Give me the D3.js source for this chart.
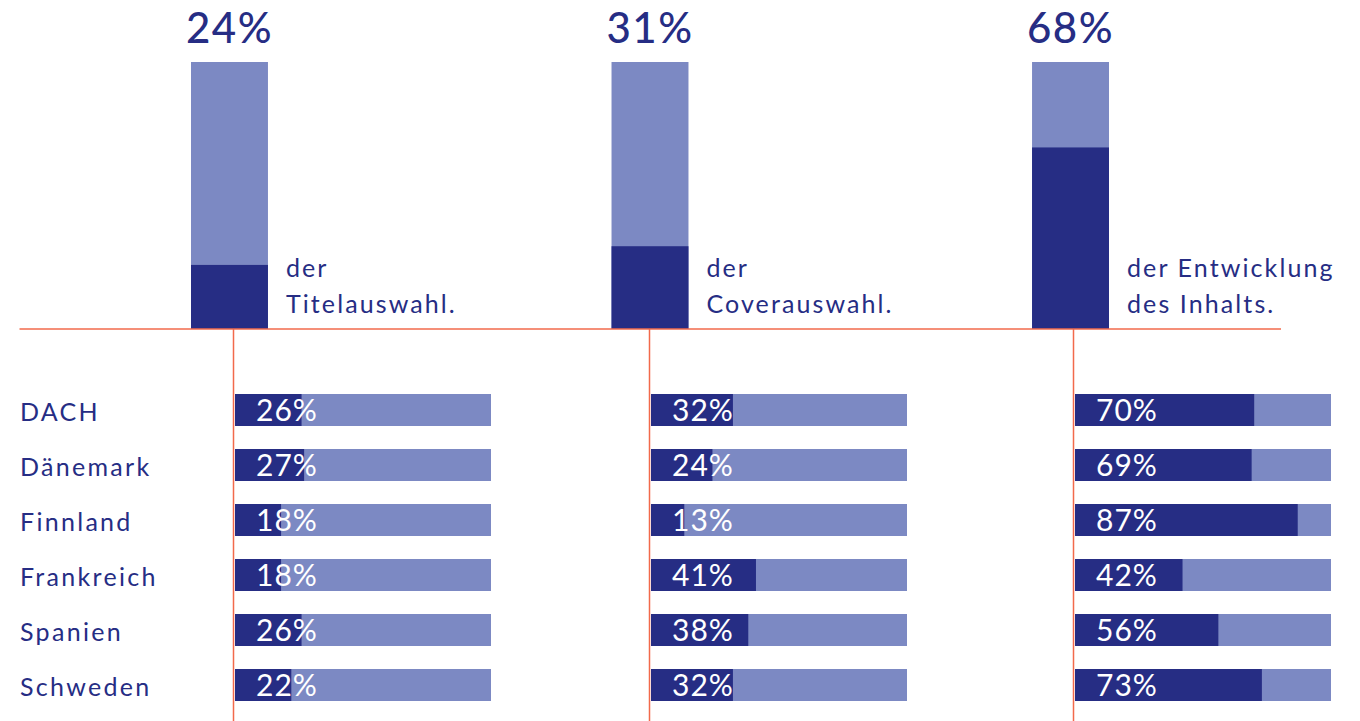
<!DOCTYPE html>
<html lang="de">
<head>
<meta charset="utf-8">
<script src="https://cdn.jsdelivr.net/npm/d3@7"></script>
<style>
  html, body { margin: 0; padding: 0; background: #ffffff; }
  svg { display: block; font-family: Lato, "Open Sans", sans-serif; }
</style>
</head>
<body>
<svg id="chart" width="1360" height="721"></svg>
<script>
// Overall shares per area of responsibility
const areas = ["Titelauswahl", "Coverauswahl", "Inhalt"];
const areaLines = [
  ["der", "Titelauswahl."],
  ["der", "Coverauswahl."],
  ["der Entwicklung", "des Inhalts."]
];
const overall = [24, 31, 68];

// Shares per market
const countries = ["DACH", "Dänemark", "Finnland", "Frankreich", "Spanien", "Schweden"];
const titelauswahl = [26, 27, 18, 18, 26, 22];
const coverauswahl = [32, 24, 13, 41, 38, 32];
const inhalt = [70, 69, 87, 42, 56, 73];

const byArea = [titelauswahl, coverauswahl, inhalt];

const DARK = "#262d84";
const LIGHT = "#7c89c3";
const RULE = "#f26a4b";
const pct = d => d + "%";

const svg = d3.select("#chart");

// ---- upper part: one tall stacked column per area ----
const baseY = 329;
const colX = d3.scaleBand()
  .domain(areas)
  .range([191, 1109])
  .paddingInner(0.817)
  .paddingOuter(0);
const colY = d3.scaleLinear().domain([0, 100]).range([baseY, 62]);

const upper = svg.append("g");
const cols = upper.selectAll("g.col")
  .data(areas.map((a, i) => ({ area: a, value: overall[i], lines: areaLines[i] })))
  .join("g")
  .attr("class", "col");

cols.append("rect")
  .attr("x", d => colX(d.area))
  .attr("y", colY(100))
  .attr("width", colX.bandwidth())
  .attr("height", colY(0) - colY(100))
  .attr("fill", LIGHT);

cols.append("rect")
  .attr("x", d => colX(d.area))
  .attr("y", d => colY(d.value))
  .attr("width", colX.bandwidth())
  .attr("height", d => colY(0) - colY(d.value))
  .attr("fill", DARK);

cols.append("text")
  .attr("x", d => colX(d.area) + colX.bandwidth() / 2)
  .attr("y", 43)
  .attr("text-anchor", "middle")
  .attr("fill", DARK)
  .style("font-size", "42px")
  .style("font-weight", 500)
  .style("letter-spacing", "1.5px")
  .text(d => pct(d.value));

cols.each(function (d) {
  const lx = colX(d.area) + colX.bandwidth() + 18;
  d3.select(this).append("text")
    .attr("fill", DARK)
    .style("font-size", "25px")
    .style("letter-spacing", "2.1px")
    .selectAll("tspan")
    .data(d.lines)
    .join("tspan")
    .attr("x", lx)
    .attr("y", (t, i) => 277 + i * 36)
    .text(t => t);
});

// baseline rule
svg.append("line")
  .attr("x1", 19.5).attr("x2", 1281)
  .attr("y1", baseY).attr("y2", baseY)
  .attr("stroke", RULE).attr("stroke-width", 1.5);

// ---- lower part: horizontal bars per market ----
const groupX = d3.scaleOrdinal().domain(areas).range([235, 651, 1075]);
const barLen = 256;
const rowY = d3.scaleBand()
  .domain(countries)
  .range([394, 701])
  .paddingInner(23 / 55)
  .paddingOuter(0);

// vertical rules down from the baseline
svg.append("g").selectAll("line")
  .data(areas)
  .join("line")
  .attr("x1", d => groupX(d) - 1.5)
  .attr("x2", d => groupX(d) - 1.5)
  .attr("y1", baseY)
  .attr("y2", 721)
  .attr("stroke", RULE)
  .attr("stroke-width", 1.5);

// market names
svg.append("g").selectAll("text")
  .data(countries)
  .join("text")
  .attr("x", 20)
  .attr("y", d => rowY(d) + rowY.bandwidth() / 2 + 11)
  .attr("fill", DARK)
  .style("font-size", "25px")
  .style("letter-spacing", "2.3px")
  .text(d => d);

areas.forEach((area, ai) => {
  const x = d3.scaleLinear().domain([0, 100]).range([groupX(area), groupX(area) + barLen]);
  const rows = countries.map((c, i) => ({ country: c, value: byArea[ai][i] }));
  const g = svg.append("g");

  g.selectAll("rect.bg")
    .data(rows)
    .join("rect")
    .attr("class", "bg")
    .attr("x", x(0))
    .attr("y", d => rowY(d.country))
    .attr("width", x(100) - x(0))
    .attr("height", rowY.bandwidth())
    .attr("fill", LIGHT);

  g.selectAll("rect.val")
    .data(rows)
    .join("rect")
    .attr("class", "val")
    .attr("x", x(0))
    .attr("y", d => rowY(d.country))
    .attr("width", d => x(d.value) - x(0))
    .attr("height", rowY.bandwidth())
    .attr("fill", DARK);

  g.selectAll("text")
    .data(rows)
    .join("text")
    .attr("x", x(0) + 21)
    .attr("y", d => rowY(d.country) + rowY.bandwidth() / 2 + 10.5)
    .attr("fill", "#ffffff")
    .style("font-size", "30px")
    .style("letter-spacing", "1px")
    .text(d => pct(d.value));
});
</script>
</body>
</html>
